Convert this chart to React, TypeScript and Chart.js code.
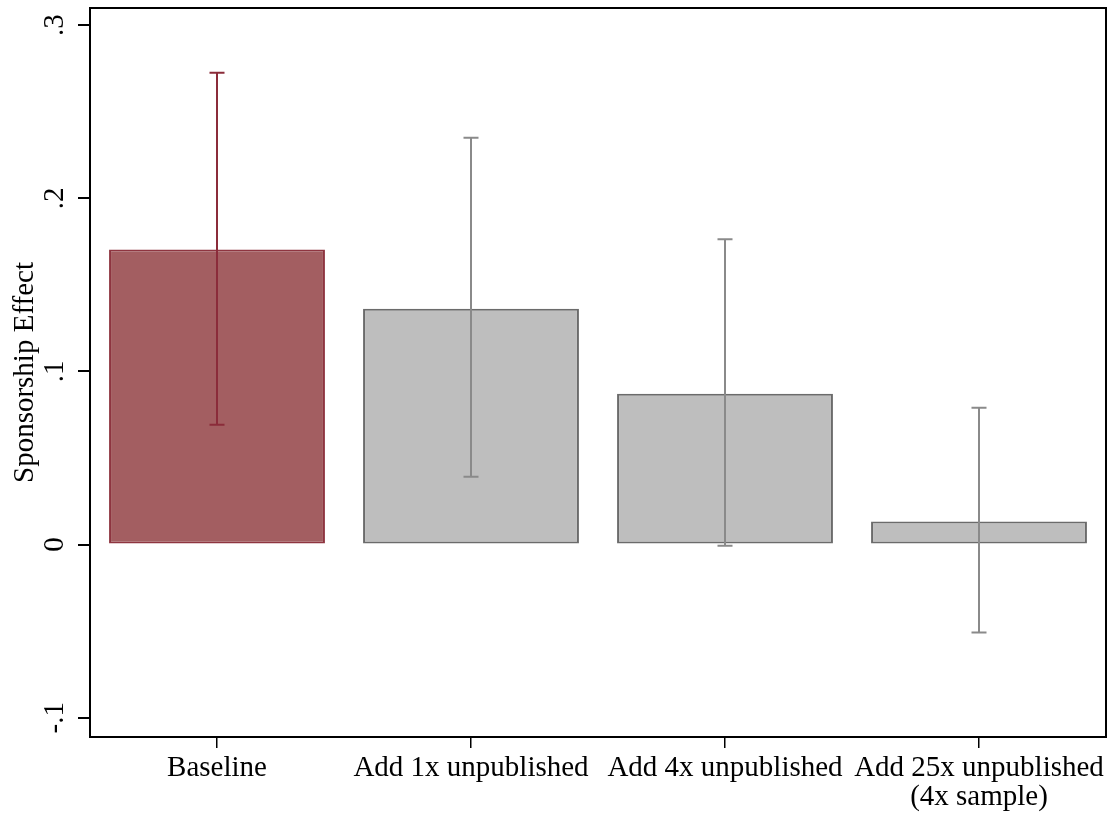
import React, { useEffect, useRef } from "react";
import { Chart, registerables } from "chart.js";

Chart.register(...registerables);

// ---- Data ----
const categories: (string | string[])[] = [
  "Baseline",
  "Add 1x unpublished",
  "Add 4x unpublished",
  ["Add 25x unpublished", "(4x sample)"],
];
const effects = [0.1705, 0.1362, 0.0872, 0.0133];
const ciLow = [0.0692, 0.0392, -0.0006, -0.0508];
const ciHigh = [0.2725, 0.2349, 0.1763, 0.079];
const yTickValues = [-0.1, 0, 0.1, 0.2, 0.3];
const yTickLabels = ["-.1", "0", ".1", ".2", ".3"];
const yTitle = "Sponsorship Effect";

// ---- Styles ----
const barFill = ["#A35E61", "#BEBEBE", "#BEBEBE", "#BEBEBE"];
const barBorder = ["#8E3540", "#6B6B6B", "#6B6B6B", "#6B6B6B"];
const errColor = ["#8B2C3A", "#8A8A8A", "#8A8A8A", "#8A8A8A"];
const FONT = "'Liberation Serif', 'Times New Roman', serif";
const FSIZE = 29;

const overlay = {
  id: "overlay",
  afterDatasetsDraw(chart: any) {
    const { ctx } = chart;
    const x = chart.scales.x;
    const y = chart.scales.y;
    effects.forEach((_, i) => {
      const px = x.getPixelForValue(i);
      const yl = y.getPixelForValue(ciLow[i]);
      const yh = y.getPixelForValue(ciHigh[i]);
      ctx.save();
      ctx.strokeStyle = errColor[i];
      ctx.lineWidth = 2;
      ctx.beginPath();
      ctx.moveTo(px, yh);
      ctx.lineTo(px, yl);
      ctx.moveTo(px - 7.5, yh);
      ctx.lineTo(px + 7.5, yh);
      ctx.moveTo(px - 7.5, yl);
      ctx.lineTo(px + 7.5, yl);
      ctx.stroke();
      ctx.restore();
    });
  },
  afterDraw(chart: any) {
    const { ctx, chartArea } = chart;
    const y = chart.scales.y;
    ctx.save();
    // frame
    ctx.strokeStyle = "#000";
    ctx.lineWidth = 2;
    ctx.strokeRect(
      chartArea.left,
      chartArea.top,
      chartArea.right - chartArea.left,
      chartArea.bottom - chartArea.top
    );
    // y tick labels (rotated)
    ctx.fillStyle = "#000";
    ctx.font = `${FSIZE}px ${FONT}`;
    ctx.textAlign = "center";
    ctx.textBaseline = "alphabetic";
    yTickValues.forEach((v, i) => {
      const py = y.getPixelForValue(v);
      ctx.save();
      ctx.translate(63, py);
      ctx.rotate(-Math.PI / 2);
      ctx.fillText(yTickLabels[i], 0, 0);
      ctx.restore();
    });
    // y title
    ctx.save();
    ctx.translate(33, (chartArea.top + chartArea.bottom) / 2);
    ctx.rotate(-Math.PI / 2);
    ctx.fillText(yTitle, 0, 0);
    ctx.restore();
    ctx.restore();
  },
};

export default function App() {
  const ref = useRef<HTMLCanvasElement>(null);
  useEffect(() => {
    if (!ref.current) return;
    const chart = new Chart(ref.current, {
      type: "bar",
      data: {
        labels: categories as any,
        datasets: [
          {
            data: effects,
            backgroundColor: barFill,
            borderColor: barBorder,
            borderWidth: 2,
            borderSkipped: false,
            barPercentage: 0.85,
            categoryPercentage: 1,
          },
        ],
      },
      options: {
        animation: false,
        responsive: false,
        layout: { padding: { top: 8, right: 8, left: 0, bottom: 0 } },
        plugins: { legend: { display: false }, tooltip: { enabled: false } },
        scales: {
          x: {
            type: "category",
            offset: true,
            border: { display: false },
            grid: {
              offset: false,
              drawOnChartArea: false,
              drawTicks: true,
              tickLength: 11,
              color: "#000",
              lineWidth: 1.5,
            },
            ticks: {
              color: "#000",
              font: { family: FONT, size: FSIZE, lineHeight: 1 },
              maxRotation: 0,
              minRotation: 0,
              autoSkip: false,
              padding: 6,
            },
            afterFit: (s: any) => {
              s.height = 76;
            },
          },
          y: {
            min: -0.1111,
            max: 0.3099,
            border: { display: false },
            grid: {
              drawOnChartArea: false,
              drawTicks: true,
              tickLength: 12,
              color: "#000",
              lineWidth: 2,
            },
            ticks: { display: false },
            afterBuildTicks: (s: any) => {
              s.ticks = yTickValues.map((v) => ({ value: v }));
            },
            afterFit: (s: any) => {
              s.width = 90;
            },
          },
        },
      },
      plugins: [overlay],
    });
    return () => chart.destroy();
  }, []);
  return (
    <div style={{ position: "fixed", left: 0, top: 0, width: 1114, height: 813, background: "#fff" }}>
      <canvas ref={ref} width={1114} height={813} />
    </div>
  );
}
